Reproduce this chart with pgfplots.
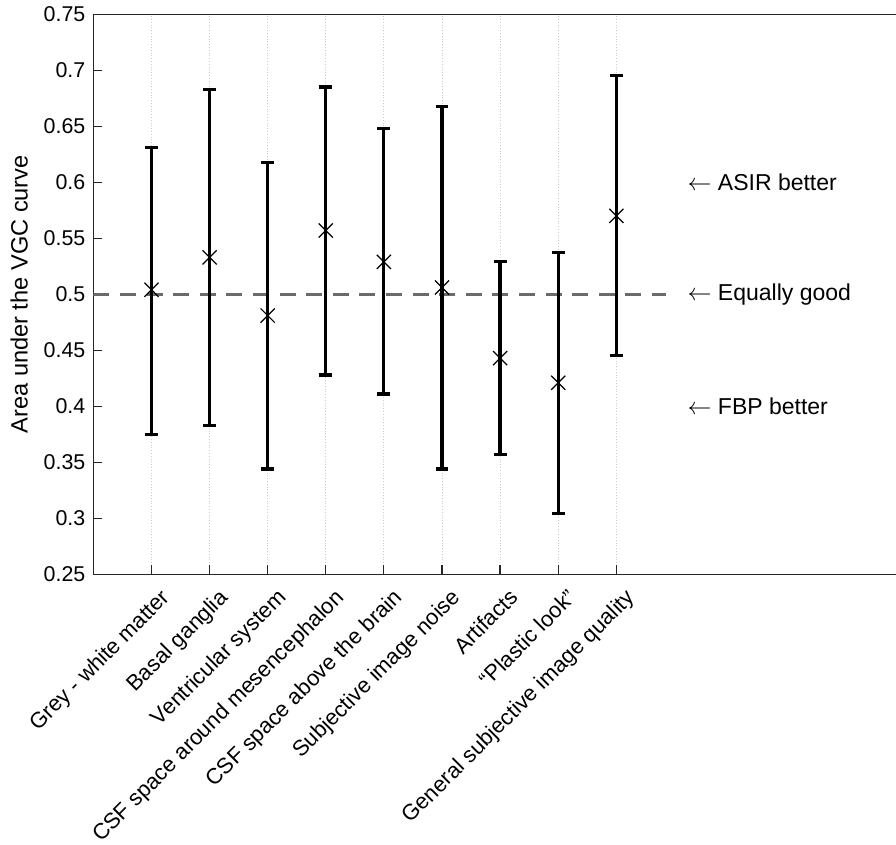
\documentclass[border=0pt]{standalone}
\usepackage{fontspec}
\setmainfont{Liberation Sans}
\usepackage{pgfplots}
\pgfplotsset{compat=1.18}
\definecolor{axisgray}{HTML}{262626}
\definecolor{dashgray}{HTML}{6B6B6B}
\begin{document}
\fontsize{11.5}{13.8}\selectfont
\begin{tikzpicture}
\useasboundingbox (-46.7pt,-135.35pt) rectangle (401.3pt,287.15pt);
\begin{axis}[
  at={(0,0)}, anchor=south west,
  scale only axis,
  width=406.7pt, height=280pt,
  xmin=0, xmax=14,
  ymin=0.25, ymax=0.75,
  ytick={0.25,0.3,0.35,0.4,0.45,0.5,0.55,0.6,0.65,0.7,0.75},
  yticklabels={0.25,0.3,0.35,0.4,0.45,0.5,0.55,0.6,0.65,0.7,0.75},
  xtick={1,2,3,4,5,6,7,8,9},
  xticklabels={Grey - white matter, Basal ganglia, Ventricular system, CSF space around mesencephalon, CSF space above the brain, Subjective image noise, Artifacts, “Plastic look”, General subjective image quality},
  xticklabel style={rotate=45, anchor=north east, inner sep=0pt, xshift=-1.7pt, yshift=-7.4pt, font=\fontsize{11}{13}\selectfont},
  yticklabel style={font=\fontsize{10.7}{12.8}\selectfont, /pgf/number format/assume math mode=true},
  tick pos=left,
  major tick length=4.5pt,
  tick style={color=axisgray, line width=0.6pt},
  xmajorgrids,
  grid style={densely dotted, gray!40, line width=0.4pt},
  axis line style={color=axisgray, line width=0.6pt},
  ylabel={Area under the VGC curve},
  ylabel style={font=\fontsize{11.8}{14}\selectfont},
]
\addplot[dashgray, line width=1.6pt, dash pattern=on 8pt off 5.3pt] coordinates {(0,0.5) (9.85,0.5)};
\addplot[black, only marks, mark=x, mark size=5pt, mark options={line width=0.6pt},
  error bars/.cd, y dir=both, y explicit,
  error bar style={line width=1.6pt, black},
  error mark options={rotate=90, mark size=3.2pt, line width=1.6pt, black}]
  table[x=x, y=y, y error plus=ep, y error minus=em] {
x y ep em
1 0.504 0.127 0.129
2 0.533 0.150 0.150
3 0.481 0.137 0.137
4 0.557 0.128 0.129
5 0.529 0.119 0.118
6 0.506 0.162 0.162
7 0.443 0.086 0.086
8 0.421 0.116 0.117
9 0.570 0.125 0.125
};
\node[anchor=west, inner sep=0pt] at (axis cs:10.22,0.6) {$\leftarrow$ ASIR better};
\node[anchor=west, inner sep=0pt] at (axis cs:10.22,0.5) {$\leftarrow$ Equally good};
\node[anchor=west, inner sep=0pt] at (axis cs:10.22,0.4) {$\leftarrow$ FBP better};
\end{axis}
\end{tikzpicture}
\end{document}
